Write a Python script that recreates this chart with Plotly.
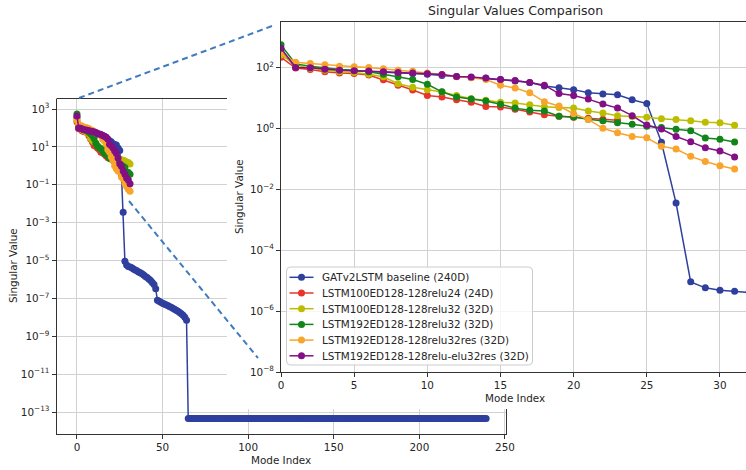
import plotly.graph_objects as go

W, H = 746, 470

# ---- singular value spectra -------------------------------------------------
series_names = [
    "GATv2LSTM baseline (240D)",
    "LSTM100ED128-128relu24 (24D)",
    "LSTM100ED128-128relu32 (32D)",
    "LSTM192ED128-128relu32 (32D)",
    "LSTM192ED128-128relu32res (32D)",
    "LSTM192ED128-128relu-elu32res (32D)",
]
series_colors = ["#2f3f9e", "#e8352b", "#bdbd00", "#12851a", "#f9a42a", "#830f84"]

gat_baseline = [
    372, 100, 98, 89, 83, 78, 74, 71, 66, 63,
    59, 54, 50, 47, 44, 40, 36, 32, 24.5, 21.4,
    18.6, 14.8, 13.5, 12.6, 8.7, 6.5, 0.35, 3.5e-3, 9.1e-6, 5.8e-6,
    4.8e-6, 4.5e-6, 4.1e-6, 3.6e-6, 3.2e-6, 2.9e-6, 2.5e-6, 2.24e-6, 2.0e-6, 1.7e-6,
    1.45e-6, 1.26e-6, 1.07e-6, 8.7e-7, 6.9e-7, 5.4e-7, 3.2e-7, 7.9e-8, 7.1e-8, 6.3e-8,
    5.6e-8, 5.1e-8, 4.6e-8, 4.2e-8, 3.7e-8, 3.4e-8, 3.0e-8, 2.7e-8, 2.4e-8, 2.1e-8,
    1.8e-8, 1.55e-8, 1.29e-8, 1.02e-8, 7.1e-9,
] + [4.6e-14] * 175

lstm100_relu24 = [
    214, 95, 85, 72, 66, 63, 56, 39, 26, 18,
    12, 10.7, 8.7, 7.2, 5.2, 5.0, 4.2, 3.4, 2.8, 2.5,
    2.3, 2.15, 2.0, 1.85,
]

lstm100_relu32 = [
    257, 120, 93, 81, 72, 68, 60, 49, 29, 22.4,
    18.6, 15.5, 12, 9.3, 8.3, 7.2, 6.8, 5.9, 5.1, 4.8,
    4.6, 3.7, 3.2, 2.6, 2.45, 2.3, 2.05, 1.95, 1.78, 1.58,
    1.51, 1.26,
]

lstm192_relu32 = [
    550, 129, 110, 95, 85, 81, 72, 60, 49, 40,
    28, 15.8, 10.7, 9.1, 7.9, 6.2, 4.6, 3.9, 3.7, 2.5,
    2.35, 2.0, 1.78, 1.51, 1.35, 1.17, 1.07, 0.93, 0.83, 0.48,
    0.44, 0.355,
]

lstm192_relu32res = [
    288, 148, 135, 123, 110, 105, 100, 91, 81, 74,
    66, 58, 49, 46, 40, 26, 21, 14.8, 7.4, 5.4,
    3.0, 1.95, 1.0, 0.71, 0.54, 0.49, 0.26, 0.21, 0.12, 0.081,
    0.059, 0.046,
]

lstm192_relu_elu32res = [
    427, 100, 98, 87, 81, 78, 76, 72, 68, 66,
    62, 58, 50, 48, 45, 40, 37, 32, 26, 13.8,
    12, 9.1, 6.3, 4.6, 2.6, 1.29, 0.95, 0.54, 0.36, 0.23,
    0.18, 0.115,
]

all_series = [gat_baseline, lstm100_relu24, lstm100_relu32,
              lstm192_relu32, lstm192_relu32res, lstm192_relu_elu32res]

main_x_ticks = [0, 50, 100, 150, 200, 250]
main_y_exponents = [3, 1, -1, -3, -5, -7, -9, -11, -13]
zoom_x_ticks = [0, 5, 10, 15, 20, 25, 30]
zoom_y_exponents = [2, 0, -2, -4, -6, -8]


def px(x):
    return x / W


def py(y):
    return 1 - y / H


def sup_label(e):
    return "10<sup>%s</sup>" % (str(e).replace("-", "\u2212"))


FONT = "DejaVu Sans"
TXT = "#262626"
SPINE = "#333333"
GRID = "#d2d2d2"
FS = 10.4

fig = go.Figure()

# white backdrop of the zoom panel: hides the main grid behind it
fig.add_trace(go.Scatter(
    x=[87.6, 300, 300, 87.6, 87.6], y=[1.4e-13, 1.4e-13, 1e6, 1e6, 1.4e-13],
    mode="lines", fill="toself", fillcolor="white", line=dict(width=0),
    hoverinfo="skip", showlegend=False, xaxis="x", yaxis="y",
))

# full spectra on the main axes
for name, vals, col in zip(series_names, all_series, series_colors):
    fig.add_trace(go.Scatter(
        x=list(range(len(vals))), y=vals, mode="lines+markers",
        line=dict(color=col, width=1.5), marker=dict(color=col, size=7),
        name=name, showlegend=False, xaxis="x", yaxis="y", cliponaxis=False,
    ))

# leading modes on the zoom axes
for name, vals, col in zip(series_names, all_series, series_colors):
    fig.add_trace(go.Scatter(
        x=list(range(len(vals))), y=vals, mode="lines+markers",
        line=dict(color=col, width=1.5), marker=dict(color=col, size=7),
        name=name, showlegend=False, xaxis="x2", yaxis="y2",
    ))

axis_common = dict(
    showline=True, linecolor=SPINE, linewidth=1, ticks="outside", ticklen=4,
    tickcolor=SPINE, tickwidth=1, showgrid=True, gridcolor=GRID, gridwidth=1,
    zeroline=False, automargin=False, tickfont=dict(family=FONT, size=FS, color=TXT),
)

fig.update_layout(
    width=W, height=H, margin=dict(l=0, r=0, t=0, b=0, pad=0), autosize=False,
    paper_bgcolor="white", plot_bgcolor="white", showlegend=False,
    font=dict(family=FONT, size=FS, color=TXT),
    xaxis=dict(domain=[px(56.5), px(506.6)], range=[-11.95, 250.95],
               tickmode="array", tickvals=main_x_ticks, anchor="y", **axis_common),
    yaxis=dict(domain=[py(434), py(99)], type="log", range=[-14.16, 3.53],
               tickmode="array", tickvals=[10.0 ** e for e in main_y_exponents],
               ticktext=[sup_label(e) for e in main_y_exponents], anchor="x", **axis_common),
    xaxis2=dict(domain=[px(281), 1.0], range=[0, 31.78], tickmode="array",
                tickvals=zoom_x_ticks, anchor="y2", mirror=True, **axis_common),
    yaxis2=dict(domain=[py(372), py(22)], type="log", range=[-8, 3.49],
                tickmode="array", tickvals=[10.0 ** e for e in zoom_y_exponents],
                ticktext=[sup_label(e) for e in zoom_y_exponents], anchor="x2", **axis_common),
)

shapes = [
    # remaining visible parts of the main frame
    dict(type="line", xref="paper", yref="paper", x0=px(56.5), x1=px(227), y0=py(98.5), y1=py(98.5),
         line=dict(color=SPINE, width=1), layer="above"),
    dict(type="line", xref="paper", yref="paper", x0=px(506.5), x1=px(506.5), y0=py(434), y1=py(409),
         line=dict(color=SPINE, width=1), layer="above"),
    # zoom connector lines
    dict(type="line", xref="paper", yref="paper", x0=px(79), y0=py(98), x1=px(272), y1=py(26),
         line=dict(color="#3f7bbf", width=2, dash="6px,4px"), layer="above"),
    dict(type="line", xref="paper", yref="paper", x0=px(129), y0=py(201), x1=px(258), y1=py(358),
         line=dict(color="#3f7bbf", width=2, dash="6px,4px"), layer="above"),
]

# legend box of the zoom panel (rounded frame)
lx0, lx1, ly0, ly1, rad = 286.5, 532.5, 267.0, 365.0, 4.0


def P(x, y):
    return "%.5f,%.5f" % (px(x), py(y))


frame = ("M " + P(lx0 + rad, ly0) + " L " + P(lx1 - rad, ly0) +
         " Q " + P(lx1, ly0) + " " + P(lx1, ly0 + rad) +
         " L " + P(lx1, ly1 - rad) + " Q " + P(lx1, ly1) + " " + P(lx1 - rad, ly1) +
         " L " + P(lx0 + rad, ly1) + " Q " + P(lx0, ly1) + " " + P(lx0, ly1 - rad) +
         " L " + P(lx0, ly0 + rad) + " Q " + P(lx0, ly0) + " " + P(lx0 + rad, ly0) + " Z")
shapes.append(dict(type="path", xref="paper", yref="paper", path=frame,
                   fillcolor="rgba(255,255,255,0.8)", line=dict(color="#cccccc", width=1),
                   layer="above"))

annotations = []
row0, row_step = 277.3, 15.7
for k, (name, col) in enumerate(zip(series_names, series_colors)):
    yc = row0 + k * row_step
    shapes.append(dict(type="line", xref="paper", yref="paper", x0=px(289.5), x1=px(313.5),
                       y0=py(yc), y1=py(yc), line=dict(color=col, width=1.5), layer="above"))
    shapes.append(dict(type="circle", xref="paper", yref="paper", x0=px(301.5 - 3.5),
                       x1=px(301.5 + 3.5), y0=py(yc + 3.5), y1=py(yc - 3.5),
                       fillcolor=col, line=dict(color=col, width=0), layer="above"))
    annotations.append(dict(text=name, x=px(320), y=py(yc), xanchor="left", yanchor="middle"))

fig.update_layout(shapes=shapes)

annotations += [
    dict(text="Singular Values Comparison", x=px(515), y=py(11), font=dict(size=12.5)),
    dict(text="Mode Index", x=px(281), y=py(460)),
    dict(text="Singular Value", x=px(13), y=py(266), textangle=-90),
    dict(text="Mode Index", x=px(515), y=py(398)),
    dict(text="Singular Value", x=px(239), y=py(197), textangle=-90),
]
for a in annotations:
    a.setdefault("xanchor", "center")
    a.setdefault("yanchor", "middle")
    a.update(xref="paper", yref="paper", showarrow=False)
fig.update_layout(annotations=annotations)

fig.write_html("out.html")
